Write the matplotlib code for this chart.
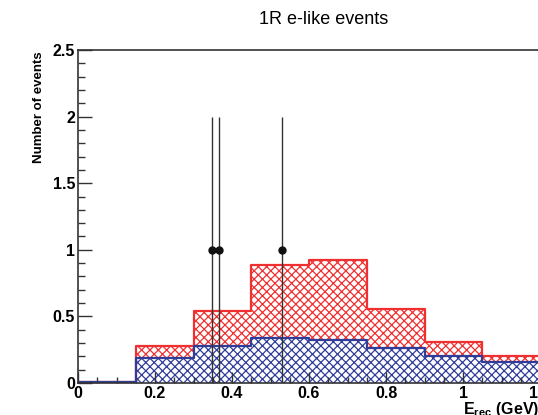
import numpy as np
import matplotlib
matplotlib.use("Agg")
import matplotlib.pyplot as plt
from matplotlib.ticker import MultipleLocator

# histogram binning (GeV) and contents
bin_edges = [0.0, 0.15, 0.30, 0.45, 0.60, 0.75, 0.90, 1.05, 1.20]
total_mc = [0.01, 0.28, 0.54, 0.885, 0.92, 0.555, 0.31, 0.20]
bkg_mc = [0.007, 0.19, 0.28, 0.34, 0.32, 0.265, 0.205, 0.16]

# observed events
data_x = [0.349, 0.366, 0.529]
data_y = [1, 1, 1]
data_err = [1, 1, 1]

plt.rcParams['font.family'] = ['Liberation Sans', 'DejaVu Sans']
plt.rcParams['mathtext.fontset'] = 'custom'
plt.rcParams['mathtext.bf'] = 'Liberation Sans:bold'
plt.rcParams['mathtext.rm'] = 'Liberation Sans:bold'
plt.rcParams['hatch.linewidth'] = 0.9

red = '#f03030'
blue = '#2f3d99'


def step_xy(edges, vals):
    xs = np.repeat(edges, 2)[1:-1]
    ys = np.repeat(vals, 2)
    return xs, ys


fig = plt.figure(figsize=(5.38, 4.15), dpi=100)
ax = fig.add_axes([78 / 538, 32 / 415, 462 / 538, 333 / 415])

xs, ys_tot = step_xy(bin_edges, total_mc)
_, ys_bkg = step_xy(bin_edges, bkg_mc)

ax.fill_between(xs, 0, ys_tot, facecolor='white', edgecolor=red, hatch='xxxx', linewidth=0)
ax.plot(xs, ys_tot, color=red, lw=1.6)
ax.fill_between(xs, 0, ys_bkg, facecolor='white', edgecolor=blue, hatch='xxxx', linewidth=0)
ax.plot(xs, ys_bkg, color=blue, lw=1.6)

ax.errorbar(data_x, data_y, yerr=data_err, fmt='o', color='#111111', ecolor='#333333',
            markersize=5, elinewidth=1.0, capsize=0, zorder=5)

ax.set_xlim(0, 1.2)
ax.set_ylim(0, 2.5)

ax.xaxis.set_major_locator(MultipleLocator(0.2))
ax.xaxis.set_minor_locator(MultipleLocator(0.05))
ax.yaxis.set_major_locator(MultipleLocator(0.5))
ax.yaxis.set_minor_locator(MultipleLocator(0.1))
ax.xaxis.set_major_formatter(plt.FuncFormatter(lambda v, p: ('%g' % round(v, 2))))
ax.yaxis.set_major_formatter(plt.FuncFormatter(lambda v, p: ('%g' % round(v, 2))))

ax.tick_params(axis='both', which='both', direction='in', top=False, right=False,
               color='#333333', width=1.0, labelsize=11.5)
ax.tick_params(axis='y', which='major', length=10, pad=2)
ax.tick_params(axis='y', which='minor', length=5)
ax.tick_params(axis='x', which='major', length=8, pad=2)
ax.tick_params(axis='x', which='minor', length=4)
for lab in ax.get_xticklabels() + ax.get_yticklabels():
    lab.set_fontweight('bold')

for s in ax.spines.values():
    s.set_color('#333333')
    s.set_linewidth(1.2)
    s.set_zorder(6)

fig.text(39 / 538, 1 - 51 / 415, 'Number of events', rotation=90, ha='center', va='top',
         fontsize=9.5, fontweight='bold')
fig.text(463 / 538, 1 - 409 / 415, r'E$_{\mathbf{rec}}$ (GeV)', ha='left', va='center',
         fontsize=11.5, fontweight='bold')
fig.text(324 / 538, 1 - 20 / 415, '1R e-like events', ha='center', va='center', fontsize=13)

fig.savefig('out.png', dpi=100)
